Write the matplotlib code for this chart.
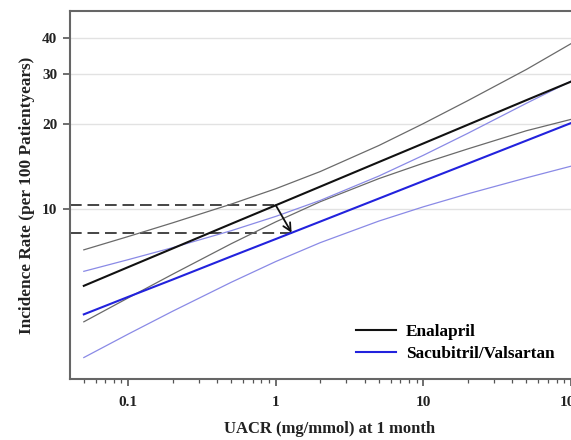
import matplotlib.pyplot as plt
from matplotlib.ticker import FixedLocator, LogLocator, NullFormatter, FixedFormatter

# UACR grid (mg/mmol) and incidence rates per 100 patient-years
uacr = [0.05, 0.1, 0.2, 0.5, 1, 2, 5, 10, 20, 50, 100]

enal_fit = [5.38, 6.26, 7.28, 8.89, 10.33, 12.01, 14.66, 17.04, 19.82, 24.2, 28.1]
enal_hi = [7.20, 8.02, 8.96, 10.43, 11.81, 13.57, 16.76, 20.01, 24.09, 31.03, 38.2]
enal_lo = [4.02, 4.88, 5.91, 7.57, 9.03, 10.63, 12.82, 14.52, 16.30, 18.89, 20.7]

sv_fit = [4.27, 4.92, 5.66, 6.83, 7.86, 9.05, 10.91, 12.57, 14.47, 17.44, 20.09]
sv_hi = [6.05, 6.65, 7.33, 8.41, 9.44, 10.74, 13.09, 15.48, 18.49, 23.59, 28.2]
sv_lo = [3.01, 3.64, 4.38, 5.54, 6.55, 7.63, 9.09, 10.20, 11.33, 12.90, 14.17]

# reading at UACR = 1: Enalapril rate, then shift onto the Sacubitril/Valsartan line
ref_uacr = [1.0, 1.28]
ref_rate = [10.33, 8.27]

yticks = [10, 20, 30, 40]
xticks = [0.1, 1, 10, 100]
xticklabels = ['0.1', '1', '10', '100']

serif = ['Liberation Serif', 'DejaVu Serif']
plt.rcParams['font.family'] = serif
plt.rcParams['font.weight'] = 'bold'

fig = plt.figure(figsize=(5.71, 4.40), dpi=100)
ax = fig.add_axes([70 / 571, 61 / 440, 520 / 571, 368 / 440])
ax.set_xscale('log')
ax.set_yscale('log')
ax.set_xlim(0.0403, 134.8)
ax.set_ylim(2.53, 49.8)

ax.yaxis.grid(True, color='#e2e2e2', linewidth=1.0, zorder=0)

xmin = ax.get_xlim()[0]
ax.hlines(ref_rate[0], xmin, ref_uacr[0], colors='#444444', linestyles=(0, (6, 3)),
          linewidth=1.4, zorder=2)
ax.hlines(ref_rate[1], xmin, ref_uacr[1], colors='#444444', linestyles=(0, (6, 3)),
          linewidth=1.4, zorder=2)

ax.plot(uacr, enal_hi, color='#6a6a6a', linewidth=0.9, zorder=3)
ax.plot(uacr, enal_lo, color='#6a6a6a', linewidth=0.9, zorder=3)
ax.plot(uacr, sv_hi, color='#8a8ae6', linewidth=0.9, zorder=3)
ax.plot(uacr, sv_lo, color='#8a8ae6', linewidth=0.9, zorder=3)
ax.plot(uacr, enal_fit, color='#111111', linewidth=1.5, zorder=4, label='Enalapril')
ax.plot(uacr, sv_fit, color='#2222dd', linewidth=1.5, zorder=4, label='Sacubitril/Valsartan')

ax.annotate('', xy=(ref_uacr[1], ref_rate[1]), xytext=(ref_uacr[0], ref_rate[0]),
            arrowprops=dict(arrowstyle='->', color='#111111', lw=1.3,
                            mutation_scale=14, shrinkA=0, shrinkB=0), zorder=5)

ax.yaxis.set_major_locator(FixedLocator(yticks))
ax.yaxis.set_major_formatter(FixedFormatter([str(t) for t in yticks]))
ax.yaxis.set_minor_locator(FixedLocator([]))
ax.xaxis.set_major_locator(FixedLocator(xticks))
ax.xaxis.set_major_formatter(FixedFormatter(xticklabels))
ax.xaxis.set_minor_locator(LogLocator(base=10, subs=range(2, 10), numticks=20))
ax.xaxis.set_minor_formatter(NullFormatter())

ax.tick_params(axis='both', which='major', length=5, width=1.2, color='#555555',
               labelsize=11, labelcolor='#222222', pad=7)
ax.tick_params(axis='y', which='major', pad=4)
ax.tick_params(axis='x', which='minor', length=3, width=0.9, color='#555555')

for side in ['left', 'bottom', 'top']:
    ax.spines[side].set_color('#666666')
    ax.spines[side].set_linewidth(1.5)
ax.spines['right'].set_visible(False)

ax.set_ylabel('Incidence Rate (per 100 Patientyears)', fontsize=12.4,
              fontweight='bold', color='#222222', labelpad=5)
ax.set_xlabel('UACR (mg/mmol) at 1 month', fontsize=12, fontweight='bold',
              color='#222222', labelpad=9)

ax.legend(loc='lower left', bbox_to_anchor=(0.52, 0.005), frameon=False,
          handlelength=2.3, handletextpad=0.6, labelspacing=0.3,
          prop={'family': serif, 'weight': 'bold', 'size': 12.4})

fig.savefig('out.png', dpi=100)
